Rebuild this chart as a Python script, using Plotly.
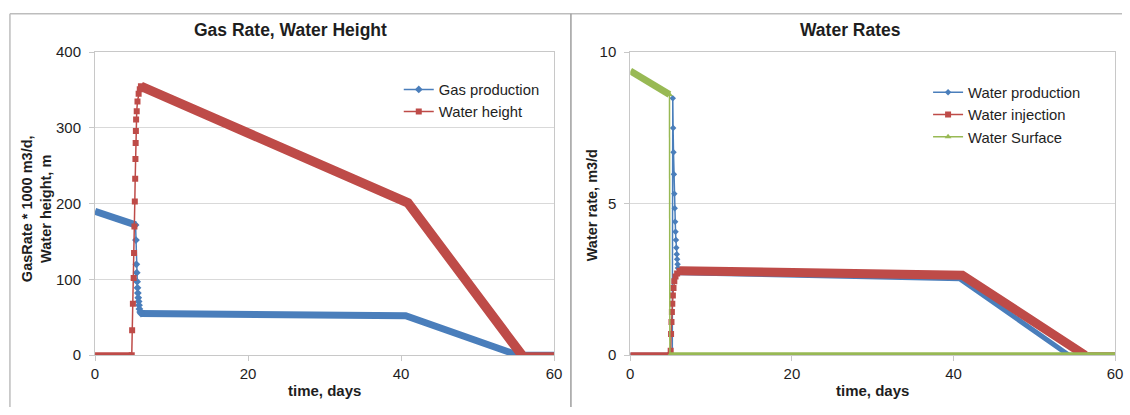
import plotly.graph_objects as go

W, H = 1130, 415

# ---------------- Gas Rate, Water Height ----------------
# Gas production (GasRate * 1000 m3/d)
gas_head_t = [0.0, 5.3]
gas_head_v = [190, 172]
gas_drop_t = [5.3, 5.35, 5.4, 5.45, 5.5, 5.55, 5.6, 5.65, 5.7, 5.75, 5.8, 5.9, 6.0]
gas_drop_v = [172, 152, 120, 109, 97, 89, 82, 76, 71, 66, 61, 57, 55]
gas_tail_t = [6.0, 40.6, 55.3, 60.0]
gas_tail_v = [55, 52, 0, 0]

# Water height, m
wh_head_t = [0.0, 4.8]
wh_head_v = [0, 0]
wh_rise_t = [4.8, 4.85, 4.95, 5.05, 5.1, 5.15, 5.2, 5.25, 5.28, 5.31, 5.34, 5.37,
             5.45, 5.55, 5.7, 5.85, 6.0]
wh_rise_v = [0, 33, 68, 102, 135, 170, 203, 233, 259, 280, 296, 311,
             322, 335, 345, 351, 355]
wh_tail_t = [6.0, 40.9, 55.8]
wh_tail_v = [355, 201, 0]
wh_end_t = [55.8, 60.0]
wh_end_v = [0, 0]

# ---------------- Water Rates ----------------
# Water production, m3/d
wp_head_t = [0.0, 5.2]
wp_head_v = [0, 0]
wp_drop_t = [5.2, 5.26, 5.3, 5.35, 5.4, 5.45, 5.5, 5.55, 5.6, 5.65, 5.7, 5.75,
             5.8, 5.85, 5.9, 6.0]
wp_drop_v = [0, 8.48, 7.5, 6.7, 5.97, 5.33, 4.85, 4.4, 4.07, 3.8, 3.55, 3.33,
             3.17, 3.0, 2.88, 2.72]
wp_tail_t = [6.0, 40.8, 54.3, 60.0]
wp_tail_v = [2.72, 2.52, 0, 0]

# Water injection, m3/d
wi_head_t = [0.0, 4.95]
wi_head_v = [0, 0]
wi_rise_t = [4.95, 5.0, 5.05, 5.1, 5.15, 5.2, 5.27, 5.35, 5.45, 5.6, 5.8, 6.1]
wi_rise_v = [0, 0.15, 0.7, 1.1, 1.43, 1.7, 1.97, 2.22, 2.44, 2.6, 2.7, 2.79]
wi_tail_t = [6.1, 41.1, 56.3]
wi_tail_v = [2.79, 2.64, 0]
wi_end_t = [56.3, 60.0]
wi_end_v = [0, 0]

# Water Surface, m3/d
ws_head_t = [0.0, 4.85]
ws_head_v = [9.38, 8.6]
ws_drop_t = [4.85, 4.9]
ws_drop_v = [8.6, 0]
ws_tail_t = [4.9, 60.0]
ws_tail_v = [0, 0]

BLUE = "#4a7ebb"
RED = "#be4b48"
GREEN = "#98b954"
GRID = "#d9d9d9"
FRAME = "#c8c8c8"
TXT = "#1e1e1e"
FONT = "Liberation Sans, Arial, sans-serif"

fig = go.Figure()


def band(x, y, color, width, xa="x", ya="y"):
    fig.add_trace(go.Scatter(x=x, y=y, mode="lines", xaxis=xa, yaxis=ya,
                             line=dict(color=color, width=width),
                             showlegend=False, hoverinfo="skip"))


def steps(x, y, color, name, symbol, size, legend, xa="x", ya="y"):
    fig.add_trace(go.Scatter(x=x, y=y, mode="lines+markers", name=name,
                             xaxis=xa, yaxis=ya, legend=legend,
                             line=dict(color=color, width=1.5),
                             marker=dict(color=color, symbol=symbol, size=size,
                                         line=dict(width=0))))


# left panel
band(gas_head_t, gas_head_v, BLUE, 7)
band(gas_tail_t, gas_tail_v, BLUE, 7)
steps(gas_drop_t, gas_drop_v, BLUE, "Gas production", "diamond", 6, "legend")
band(wh_head_t, wh_head_v, RED, 6)
band(wh_tail_t, wh_tail_v, RED, 9.5)
band(wh_end_t, wh_end_v, RED, 6)
steps(wh_rise_t, wh_rise_v, RED, "Water height", "square", 6, "legend")

# right panel
band(wp_head_t, wp_head_v, BLUE, 5, "x2", "y2")
band(wp_tail_t, wp_tail_v, BLUE, 5, "x2", "y2")
steps(wp_drop_t, wp_drop_v, BLUE, "Water production", "diamond", 5, "legend2", "x2", "y2")
band(wi_head_t, wi_head_v, RED, 6, "x2", "y2")
band(wi_tail_t, wi_tail_v, RED, 9, "x2", "y2")
band(wi_end_t, wi_end_v, RED, 6, "x2", "y2")
steps(wi_rise_t, wi_rise_v, RED, "Water injection", "square", 6, "legend2", "x2", "y2")
band(ws_head_t, ws_head_v, GREEN, 7, "x2", "y2")
band(ws_tail_t, ws_tail_v, GREEN, 6, "x2", "y2")
steps(ws_drop_t, ws_drop_v, GREEN, "Water Surface", "triangle-up", 6, "legend2", "x2", "y2")


def px(v):
    return v / W


def py(v):
    return 1 - v / H


ydom = [py(361), py(45)]
axis_common = dict(showline=True, mirror=True, linecolor=FRAME, linewidth=1,
                   ticks="outside", ticklen=5, tickcolor=FRAME, zeroline=False,
                   tickfont=dict(family=FONT, size=15, color=TXT))

fig.update_layout(
    width=W, height=H, margin=dict(l=0, r=0, t=0, b=0),
    paper_bgcolor="white", plot_bgcolor="white",
    font=dict(family=FONT, color=TXT),
    xaxis=dict(domain=[px(92), px(556)], range=[0, 60], tickvals=[0, 20, 40, 60],
               showgrid=False, anchor="y", **axis_common),
    yaxis=dict(domain=ydom, range=[0, 400], tickvals=[0, 100, 200, 300, 400],
               showgrid=True, gridcolor=GRID, anchor="x", ticklabelstandoff=5,
               **axis_common),
    xaxis2=dict(domain=[px(633), px(1123)], range=[0, 60], tickvals=[0, 20, 40, 60],
                showgrid=False, anchor="y2", **axis_common),
    yaxis2=dict(domain=ydom, range=[0, 10], tickvals=[0, 5, 10],
                showgrid=True, gridcolor=GRID, anchor="x2", ticklabelstandoff=5,
                **axis_common),
    legend=dict(x=px(399), y=py(67), xanchor="left", yanchor="top",
                bgcolor="rgba(0,0,0,0)", itemwidth=30, tracegroupgap=0,
                font=dict(family=FONT, size=14.8, color=TXT)),
    legend2=dict(x=px(934), y=py(70), xanchor="left", yanchor="top",
                 bgcolor="rgba(0,0,0,0)", itemwidth=30, tracegroupgap=0,
                 font=dict(family=FONT, size=14.8, color=TXT)),
    showlegend=True,
)

ann = [
    dict(text="<b>Gas Rate, Water Height</b>", x=px(290), y=py(22), size=17.5),
    dict(text="<b>Water Rates</b>", x=px(856), y=py(22), size=17.5),
    dict(text="<b>time, days</b>", x=px(324), y=py(398), size=15),
    dict(text="<b>time, days</b>", x=px(878), y=py(398), size=15),
]
for a in ann:
    fig.add_annotation(text=a["text"], x=a["x"], y=a["y"], xref="paper", yref="paper",
                       showarrow=False, xanchor="center", yanchor="middle",
                       font=dict(family=FONT, size=a["size"], color=TXT))

fig.add_annotation(text="<b>GasRate * 1000 m3/d,<br>Water height, m</b>",
                   x=px(33), y=py(208), xref="paper", yref="paper", showarrow=False,
                   textangle=-90, xanchor="center", yanchor="middle",
                   font=dict(family=FONT, size=14.5, color=TXT))
fig.add_annotation(text="<b>Water rate, m3/d</b>",
                   x=px(594), y=py(205), xref="paper", yref="paper", showarrow=False,
                   textangle=-90, xanchor="center", yanchor="middle",
                   font=dict(family=FONT, size=14.5, color=TXT))

# chart frames
for x0, y0, x1, y1, c in [
    (6, 5, W, 5, "#bdbdbd"),
    (6, 5, 6, H, "#bdbdbd"),
    (573, 5, 573, H, "#9e9e9e"),
]:
    fig.add_shape(type="line", xref="paper", yref="paper",
                  x0=px(x0), y0=py(y0), x1=px(x1), y1=py(y1),
                  line=dict(color=c, width=1.5))

fig.write_html("out.html")
